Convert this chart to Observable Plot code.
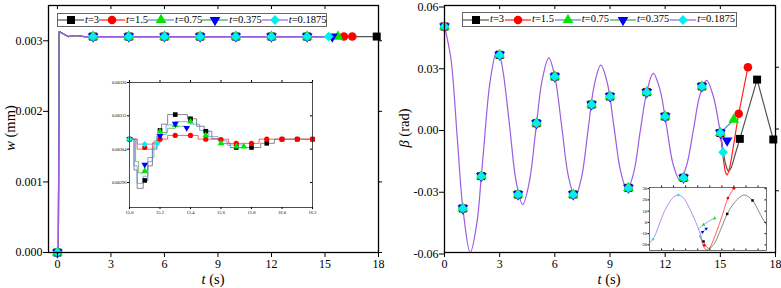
<!DOCTYPE html>
<html>
<head>
<meta charset="utf-8">
<script src="https://cdn.jsdelivr.net/npm/d3@7"></script>
<script src="https://cdn.jsdelivr.net/npm/@observablehq/plot@0.6"></script>
<style>
  body { margin: 0; background: #fff; font-family: "Liberation Serif", "Times New Roman", serif; }
  #wrap { position: relative; width: 781px; height: 288px; overflow: hidden; background: #fff; }
  .panel { position: absolute; top: 0; }
  .inset { position: absolute; }
  .legend { position: absolute; display: flex; align-items: center; justify-content: space-between;
            border: 1px solid #666; background: #fff; font-size: 10.5px; box-sizing: border-box; padding: 0 1px 0 0; }
  .legend .e { display: flex; align-items: center; }
  .legend svg { display: block; }
  .legend span { white-space: nowrap; margin-left: 1px; line-height: 1; }
  .lbl { position: absolute; font-size: 14.5px; white-space: nowrap; transform: translate(-50%, -50%); line-height: 1; }
  .lbl.rot { transform: translate(-50%, -50%) rotate(-90deg); }
</style>
</head>
<body>
<div id="wrap"></div>
<script>
// ---- series ----
const seriesNames = ["3", "1.5", "0.75", "0.375", "0.1875"];
const markerColors = ["#000000", "#ff0000", "#00e600", "#0000ff", "#00f0f0"];
const lineColors = ["#555555", "#ff2020", "#4f86e6", "#3aa84a", "#9b5de0"];

// ---- deflection w (mm) ----
const wT = [0, 0.05, 0.1, 0.35, 0.6, 1.0, 1.5, 15.0];
const wV = [0, 0, 0.00313, 0.003095, 0.00306, 0.003075, 0.00306, 0.00306];
const wEndT = [18.0, 16.53, 15.73, 15.41, 15.21];
const wEndV = [0.00306, 0.00306, 0.00306, 0.00306, 0.00306];
const wMarkT = [0, 2, 4, 6, 8, 10, 12, 14];
const wMarkV = [0, 0.00306, 0.00306, 0.00306, 0.00306, 0.00306, 0.00306, 0.00306];
const wTailT = [[17.9], [16.06, 16.53], [15.73], [15.41], [15.21]];
const wTailV = [[0.00306], [0.00306, 0.00306], [0.00306], [0.00306], [0.00306]];
const wTicks = [0, 0.001, 0.002, 0.003];
const tTicks = [0, 3, 6, 9, 12, 15, 18];

// detail of w between 15.0 s and 16.2 s
const wInLineT = [
  [15.00, 15.03, 15.05, 15.09, 15.12, 15.15, 15.18, 15.21, 15.25, 15.38, 15.44, 15.49, 15.54, 15.60, 15.66, 15.86, 15.95, 16.20],
  [15.00, 15.05, 15.15, 15.20, 15.25, 15.45, 15.65, 15.85, 16.20],
  [15.00, 15.03, 15.05, 15.09, 15.12, 15.15, 15.18, 15.24, 15.30, 15.40, 15.46, 15.52, 15.58, 15.64, 15.75],
  [15.00, 15.04, 15.06, 15.09, 15.12, 15.16, 15.20, 15.25, 15.30, 15.375],
  [15.00, 15.05, 15.15, 15.19]
];
const wInLineV = [
  [0.003064, 0.002990, 0.002946, 0.002965, 0.003000, 0.003040, 0.003070, 0.003100, 0.003123, 0.003113, 0.003095, 0.003083, 0.003065, 0.003054, 0.003044, 0.003054, 0.003064, 0.003064],
  [0.003064, 0.003040, 0.003055, 0.003064, 0.003073, 0.003064, 0.003054, 0.003064, 0.003064],
  [0.003064, 0.003000, 0.002958, 0.002975, 0.003010, 0.003045, 0.003075, 0.003098, 0.003106, 0.003100, 0.003085, 0.003070, 0.003060, 0.003050, 0.003046],
  [0.003064, 0.003010, 0.002983, 0.002990, 0.003020, 0.003060, 0.003080, 0.003090, 0.003095, 0.003091],
  [0.003064, 0.003052, 0.003053, 0.003053]
];
const wInMarkT = [
  [15.0, 15.1, 15.2, 15.3, 15.4, 15.5, 15.7, 15.8, 15.9, 16.0, 16.1, 16.2],
  [15.0, 15.1, 15.2, 15.3, 15.4, 15.5, 15.6, 15.7, 15.8, 15.9, 16.0, 16.1, 16.2],
  [15.0, 15.1, 15.2, 15.3, 15.4, 15.5, 15.6, 15.7, 15.75],
  [15.0, 15.1, 15.2, 15.3, 15.375],
  [15.0, 15.1, 15.18]
];
const wInMarkV = [
  [0.003064, 0.002965, 0.003085, 0.003123, 0.003113, 0.003083, 0.003044, 0.003044, 0.003054, 0.003064, 0.003064, 0.003064],
  [0.003064, 0.003044, 0.003064, 0.003073, 0.003073, 0.003064, 0.003063, 0.003054, 0.003054, 0.003064, 0.003064, 0.003064, 0.003064],
  [0.003064, 0.002987, 0.003082, 0.003098, 0.003106, 0.003073, 0.003054, 0.003046, 0.003046],
  [0.003064, 0.003003, 0.003072, 0.003101, 0.003091],
  [0.003064, 0.003052, 0.003053]
];
const wInTicksY = [0.00296, 0.00304, 0.00312, 0.0032];
const wInTicksX = [15.0, 15.2, 15.4, 15.6, 15.8, 16.0, 16.2];

// ---- rotation beta (rad) ----
const bT = [0, 0.35, 0.7, 1.0, 1.4, 1.76, 2.0, 2.12, 2.49, 2.85, 3.0, 3.2, 3.55, 3.9, 4.25, 4.6, 4.96, 5.32, 5.67,
            6.0, 6.38, 6.74, 7.1, 7.45, 7.8, 8.15, 8.5, 8.86, 9.22, 9.58, 9.93, 10.29, 10.64, 11.0, 11.35,
            11.71, 12.08, 12.44, 12.8, 13.16, 13.53, 13.89, 14.25, 14.6, 15.0, 15.15];
const bV = [0.050, 0.034, -0.005, -0.0386, -0.060, -0.0457, -0.023, -0.011, 0.0237, 0.038, 0.036, 0.027, 0.0007,
            -0.0257, -0.0367, -0.0263, -0.001, 0.0242, 0.0346, 0.0255, 0.0008, -0.0231, -0.033, -0.0236, -0.001,
            0.0216, 0.031, 0.0221, 0.0008, -0.0206, -0.0295, -0.0212, -0.0013, 0.0179, 0.027, 0.0194, 0.001,
            -0.0174, -0.025, -0.0179, -0.0007, 0.0165, 0.0236, 0.0165, -0.0019, -0.0113];
// smooth continuation of each run after 15 s (the 0.1875 run is the curve above)
const bSmoothT = [
  [15.0, 15.15, 15.3, 15.45, 15.6, 15.8, 16.06],
  [15.0, 15.1, 15.2, 15.3, 15.37, 15.5, 15.7, 15.85, 16.0],
  [15.0, 15.73],
  [15.0, 15.37],
  []
];
const bSmoothV = [
  [-0.0019, -0.0105, -0.0175, -0.0205, -0.0185, -0.0125, -0.0048],
  [-0.0019, -0.0095, -0.017, -0.0215, -0.0223, -0.019, -0.009, -0.0005, 0.0074],
  [-0.0019, 0.0045],
  [-0.0019, -0.0056],
  []
];
const bCoarseT = [[16.06, 17.0, 17.88], [16.0, 16.5], [], [], []];
const bCoarseV = [[-0.0048, 0.024, -0.0051], [0.0074, 0.030], [], [], []];
const bMarkT = [0, 1, 2, 3, 4, 5, 6, 7, 8, 9, 10, 11, 12, 13, 14, 15];
const bMarkV = [0.0498, -0.0386, -0.0229, 0.036, -0.0318, 0.0028, 0.0255, -0.0318, 0.0119, 0.0158, -0.0286,
                0.0179, 0.0061, -0.0237, 0.0207, -0.0019];
const bTailT = [[16.06, 17.0, 17.88], [16.0, 16.5], [15.73], [15.37], [15.15]];
const bTailV = [[-0.0048, 0.024, -0.0051], [0.0074, 0.030], [0.0045], [-0.0056], [-0.0113]];
const bTicks = [-0.06, -0.03, 0, 0.03, 0.06];

// detail of beta (10^-3 rad) around the end of the runs
const bInT = [
  [15.1, 15.25, 15.4, 15.5, 15.7, 15.9, 16.1, 16.22, 16.5, 16.75, 16.95, 17.27, 17.5, 17.7, 17.85],
  [15.1, 15.2, 15.3, 15.4, 15.5, 15.7, 15.9, 16.1, 16.25, 16.5],
  [15.02, 15.24, 15.45, 15.7],
  [15.1, 15.2, 15.35],
  [13.0, 13.15, 13.4, 13.6, 13.8, 14.0, 14.2, 14.4, 14.6, 14.8, 15.0, 15.1, 15.15]
];
const bInV = [
  [-12, -18, -22.5, -23, -18.5, -9, 1.5, 7.5, 17, 22.5, 24.3, 19.5, 11, 3, -2],
  [-12, -19, -23.5, -24.5, -22.5, -13, -1, 12, 21.6, 30.3],
  [-6, -2.1, 1, 3.6],
  [-10, -8.6, -5.7],
  [-18, -15, -2, 9, 17, 22.5, 24.3, 22, 15, 6, -4, -10, -13]
];
const bInMarkT = [[15.24, 16.22, 17.27], [15.27, 16.25, 16.5], [15.24, 15.7], [15.2, 15.35], [13.15, 14.2, 15.1]];
const bInMarkV = [[-17, 7.5, 19.5], [-20.5, 21.6, 30.3], [-2.1, 3.6], [-8.6, -5.7], [-15, 24.3, -12.5]];
const bInTicksY = [-20, -10, 0, 10, 20, 30];
const bInTicksX = [13.5, 14, 14.5, 15, 15.5, 16, 16.5, 17, 17.5];

// ---- drawing helpers ----
const triangleDown = {
  draw(ctx, size) {
    const y = -Math.sqrt(size / (Math.sqrt(3) * 3));
    ctx.moveTo(0, -y * 2);
    ctx.lineTo(-Math.sqrt(3) * y, y);
    ctx.lineTo(Math.sqrt(3) * y, y);
    ctx.closePath();
  }
};
const plotSymbols = ["square", "circle", "triangle", triangleDown, "diamond2"];
const d3Symbols = [d3.symbolSquare, d3.symbolCircle, d3.symbolTriangle, triangleDown, d3.symbolDiamond2];
const markR = [4.5, 4.3, 4.0, 4.0, 4.4];
const zip = (xs, ys) => xs.map((x, i) => ({x, y: ys[i]}));

const wrap = document.getElementById("wrap");
function place(el, left, top, cls) {
  el.classList.add(cls);
  el.style.left = left + "px";
  el.style.top = top + "px";
  wrap.appendChild(el);
  return el;
}
const baseStyle = {fontFamily: "Liberation Serif, Times New Roman, serif", background: "transparent", color: "black", overflow: "visible"};

// mirrored ticks on the top and right edges of the frame
function frameTicks(xt, yt, {top = true, right = true, len = 4} = {}) {
  const marks = [];
  if (top) marks.push(Plot.tickX(xt, {x: d => d, stroke: "black", strokeWidth: 1, render: (i, s, v, d, c, next) => {
    const g = next(i, s, v, d, c);
    d3.select(g).selectAll("line").attr("y1", d.marginTop).attr("y2", d.marginTop + len);
    return g;
  }}));
  if (right) marks.push(Plot.tickY(yt, {y: d => d, stroke: "black", strokeWidth: 1, render: (i, s, v, d, c, next) => {
    const g = next(i, s, v, d, c);
    const xr = d.width - d.marginRight;
    d3.select(g).selectAll("line").attr("x1", xr).attr("x2", xr + len);
    return g;
  }}));
  return marks;
}

function seriesMarks(lineT, lineV, curve, markT, markV, r, sw = 1.2) {
  const marks = [];
  lineT.forEach((ts, i) => {
    if (ts.length) marks.push(Plot.line(zip(ts, lineV[i]), {x: "x", y: "y", stroke: lineColors[i], strokeWidth: sw, curve}));
  });
  markT.forEach((ts, i) => {
    marks.push(Plot.dot(zip(ts, markV[i]), {x: "x", y: "y", symbol: plotSymbols[i], r: r[i], fill: markerColors[i], stroke: "none"}));
  });
  return marks;
}

// ---- left panel: w ----
{
  const lineT = wEndT.map((e, i) => wT.concat([e]));
  const lineV = wEndV.map((e, i) => wV.concat([e]));
  const markT = wTailT.map(tail => wMarkT.concat(tail));
  const markV = wTailV.map(tail => wMarkV.concat(tail));
  const chart = Plot.plot({
    width: 390, height: 288,
    marginLeft: 48, marginRight: 12, marginTop: 5, marginBottom: 36,
    style: {...baseStyle, fontSize: "12px"},
    x: {domain: [-0.5, 18]},
    y: {domain: [0, 0.0035]},
    marks: [
      ...seriesMarks(lineT, lineV, "linear", markT, markV, markR),
      Plot.frame({stroke: "black", strokeWidth: 1.3}),
      Plot.axisX({ticks: tTicks, tickSize: 5, tickPadding: 2, label: null, tickFormat: d => String(d)}),
      Plot.axisY({ticks: wTicks, tickSize: 5, tickPadding: 1, label: null, tickFormat: d => d.toFixed(3)}),
      ...frameTicks(tTicks.slice(0, -1), wTicks)
    ]
  });
  place(chart, 0, 0, "panel");
}

// ---- right panel: beta ----
{
  const lineT = bSmoothT.map((ts, i) => i === 4 ? bT : ts);
  const lineV = bSmoothV.map((vs, i) => i === 4 ? bV : vs);
  const markT = bTailT.map(tail => bMarkT.concat(tail));
  const markV = bTailV.map(tail => bMarkV.concat(tail));
  const coarse = bCoarseT.map((ts, i) => ts.length ? Plot.line(zip(ts, bCoarseV[i]), {x: "x", y: "y", stroke: lineColors[i], strokeWidth: 1.2}) : null).filter(Boolean);
  const lines = seriesMarks(lineT, lineV, "catmull-rom", [], [], markR);
  const dots = seriesMarks([], [], "linear", markT, markV, markR);
  const chart = Plot.plot({
    width: 391, height: 288,
    marginLeft: 54, marginRight: 6, marginTop: 5, marginBottom: 36,
    style: {...baseStyle, fontSize: "12px"},
    x: {domain: [0, 18]},
    y: {domain: [-0.06, 0.06]},
    marks: [
      ...coarse, ...lines, ...dots,
      Plot.frame({stroke: "black", strokeWidth: 1.3}),
      Plot.axisX({ticks: tTicks, tickSize: 5, tickPadding: 2, label: null, tickFormat: d => String(d)}),
      Plot.axisY({ticks: bTicks, tickSize: 5, tickPadding: 1, dy: 1.5, label: null, tickFormat: d => d.toFixed(2)}),
      ...frameTicks(tTicks.slice(1, -1), bTicks.slice(1, -1))
    ]
  });
  place(chart, 390, 0, "panel");
}

// ---- inset: w detail ----
{
  const chart = Plot.plot({
    width: 222, height: 142,
    marginLeft: 31, marginRight: 8, marginTop: 4, marginBottom: 13,
    style: {...baseStyle, fontSize: "4.5px"},
    x: {domain: [15.0, 16.2]},
    y: {domain: [0.0029, 0.0032]},
    marks: [
      Plot.frame({fill: "white"}),
      ...seriesMarks(wInLineT, wInLineV, "step-after", wInMarkT, wInMarkV, [2.6, 2.6, 2.5, 2.5, 2.8], 0.7),
      Plot.frame({stroke: "#222", strokeWidth: 0.8}),
      Plot.axisX({ticks: wInTicksX, tickSize: 2, tickPadding: 1, label: null, tickFormat: d => d.toFixed(1)}),
      Plot.axisY({ticks: wInTicksY, tickSize: 2, tickPadding: 1, label: null, tickFormat: d => d.toFixed(5)}),
      ...frameTicks(wInTicksX, wInTicksY, {len: -2})
    ]
  });
  place(chart, 98, 78, "inset");
}

// ---- inset: beta detail ----
{
  const chart = Plot.plot({
    width: 138, height: 70,
    marginLeft: 17, marginRight: 4, marginTop: 4, marginBottom: 3,
    style: {...baseStyle, fontSize: "4.5px"},
    x: {domain: [13.0, 17.85]},
    y: {domain: [-25, 31]},
    marks: [
      Plot.frame({fill: "white"}),
      ...seriesMarks(bInT, bInV, "catmull-rom", bInMarkT, bInMarkV, [1.4, 1.4, 1.3, 1.3, 1.4], 0.7),
      Plot.frame({stroke: "#333", strokeWidth: 0.7}),
      Plot.axisY({ticks: bInTicksY, tickSize: 1.5, tickPadding: 1, label: null, tickFormat: d => String(d)}),
      Plot.axisX({ticks: bInTicksX, tickSize: -1.5, tickPadding: 0, label: null, tickFormat: () => ""}),
      ...frameTicks(bInTicksX, bInTicksY, {len: -1.5})
    ]
  });
  place(chart, 632, 183, "inset");
}

// ---- legends ----
function legend(left, top, width, height) {
  const div = document.createElement("div");
  div.style.width = width + "px";
  div.style.height = height + "px";
  seriesNames.forEach((name, i) => {
    const e = document.createElement("div");
    e.className = "e";
    const path = d3.symbol(d3Symbols[i], Math.PI * markR[i] * markR[i])();
    e.innerHTML = `<svg width="26" height="12"><line x1="0" x2="26" y1="6" y2="6" stroke="${lineColors[i]}" stroke-width="1.2"/>` +
      `<path d="${path}" transform="translate(13,6)" fill="${markerColors[i]}"/></svg><span><i>t</i>=${name}</span>`;
    div.appendChild(e);
  });
  place(div, left, top, "legend");
}
legend(57, 13, 270, 14);
legend(462, 12, 275, 15);

// ---- axis titles ----
function label(html, x, y, rot) {
  const d = document.createElement("div");
  d.innerHTML = html;
  place(d, x, y, "lbl");
  if (rot) d.classList.add("rot");
}
label("<i>t</i> (s)", 213, 279);
label("<i>t</i> (s)", 609, 279);
label("<i>w</i> (mm)", 10, 128, true);
label("<i>β</i> (rad)", 404, 128, true);
</script>
</body>
</html>
